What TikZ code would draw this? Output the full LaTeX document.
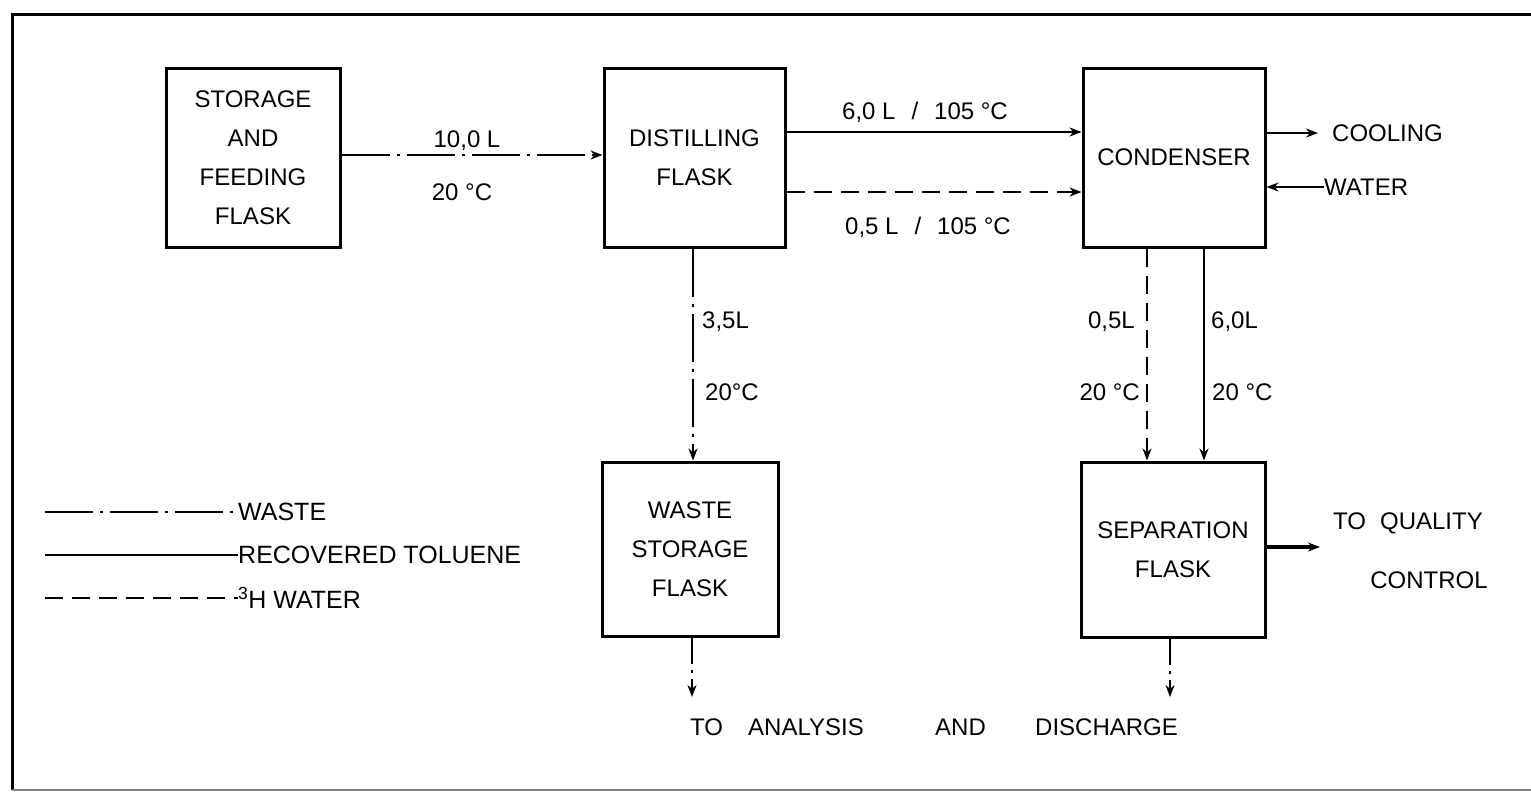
\documentclass[tikz,border=0pt]{standalone}
\usepackage{fontspec}
\setmainfont{Liberation Sans}
\usetikzlibrary{arrows.meta,calc}
\begin{document}
\begin{tikzpicture}[x=1pt,y=-1pt,
  box/.style={draw, line width=3pt, align=center, inner sep=0pt,
    font=\fontsize{24}{39}\selectfont},
  lbl/.style={inner sep=0pt, font=\fontsize{24}{28}\selectfont},
  lgd/.style={inner sep=0pt, anchor=west, font=\fontsize{25}{28}\selectfont},
  wst/.style={line width=2.7pt, dash pattern=on 48pt off 7pt on 3pt off 7pt},
  wstshort/.style={line width=2.7pt, dash pattern=on 26pt off 6pt on 3pt off 6pt},
  tol/.style={line width=2.7pt},
  wat/.style={line width=2.7pt, dash pattern=on 18pt off 9pt},
  arr/.style={-{Stealth[length=12pt,width=9pt]}}]
\useasboundingbox (0,0) rectangle (1531,795);

% frame
\draw[line width=3pt] (1531,14) -- (12,14) -- (12,790);
\draw[line width=2pt, gray] (12,790) -- (1531,790);

% boxes
\node[box, minimum width=174pt, minimum height=179pt] (stor) at (253,157.5) {STORAGE\\AND\\FEEDING\\FLASK};
\node[box, minimum width=181pt, minimum height=179pt] (dist) at (694.5,157.5) {DISTILLING\\FLASK};
\node[box, minimum width=182pt, minimum height=179pt] (cond) at (1174,157.5) {CONDENSER};
\node[box, minimum width=176pt, minimum height=174pt] (waste) at (690,549) {WASTE\\STORAGE\\FLASK};
\node[box, minimum width=184pt, minimum height=175pt] (sep) at (1173,549.5) {SEPARATION\\FLASK};

% feed
\coordinate (yfeed) at (0,155);
\draw[wst,arr] (stor.east |- yfeed) -- (dist.west |- yfeed);
\node[lbl] (l100) at (467,141) {10,0 L};
\node[lbl] (l20a) at (462,192) {20 °C};

% vapour lines
\coordinate (ytol) at (0,132);
\coordinate (ywat) at (0,192);
\draw[tol,arr] (dist.east |- ytol) -- (cond.west |- ytol);
\draw[wat,arr] (dist.east |- ywat) -- (cond.west |- ywat);
\node[lbl] (l60v) at (925,112) {6,0 L\hspace{16pt}/\hspace{16pt}105 °C};
\node[lbl] (l05v) at (928,227) {0,5 L\hspace{16pt}/\hspace{16pt}105 °C};

% cooling water
\node[lbl, anchor=west] (cool) at (1332,133) {COOLING};
\coordinate (coolend) at (1318,133);
\draw[line width=2pt,arr] (cond.east |- coolend) -- (coolend);
\node[lbl, anchor=west] (water) at (1324,187) {WATER};
\draw[line width=2pt,arr] (water.west) -- (cond.east |- water.west);

% distilling -> waste
\coordinate (xdd) at (693,0);
\draw[wst,arr] (dist.south -| xdd) -- (waste.north -| xdd);
\node[lbl, anchor=west] (l35) at (702,322) {3,5L};
\node[lbl, anchor=west] (l20b) at (705,392) {20°C};

% condenser -> separation
\coordinate (xc1) at (1147,0);
\coordinate (xc2) at (1204,0);
\draw[wat,arr] (cond.south -| xc1) -- (sep.north -| xc1);
\draw[tol,arr] (cond.south -| xc2) -- (sep.north -| xc2);
\node[lbl, anchor=east] (l05) at (1135,322) {0,5L};
\node[lbl, anchor=east] (l20c) at (1140,392) {20 °C};
\node[lbl, anchor=west] (l60) at (1211,322) {6,0L};
\node[lbl, anchor=west] (l20d) at (1212,392) {20 °C};

% quality control
\node[lbl, anchor=west] (q1) at (1333,523) {TO\hspace{14pt}QUALITY};
\node[lbl] (q2) at (1429,580) {CONTROL};
\coordinate (qend) at (1320,547);
\draw[line width=3.5pt,arr] (sep.east |- qend) -- (qend);

% discharge
\coordinate (wd) at (692,697);
\coordinate (sd) at (1170,697);
\draw[wstshort,arr] (waste.south -| wd) -- (wd);
\draw[wstshort,arr] (sep.south -| sd) -- (sd);
\node[lbl, anchor=west] (b1) at (690,727) {TO};
\node[lbl, anchor=west] (b2) at (748,727) {ANALYSIS};
\node[lbl, anchor=west] (b3) at (935,727) {AND};
\node[lbl, anchor=west] (b4) at (1035,727) {DISCHARGE};

% legend
\node[lgd] (lg1) at (238,512) {WASTE};
\node[lgd] (lg2) at (238,555) {RECOVERED TOLUENE};
\node[lgd] (lg3) at (238,598) {\textsuperscript{3}H WATER};
\coordinate (lg1s) at (45,512);
\coordinate (lg2s) at (45,555);
\coordinate (lg3s) at (45,598);
\draw[wst] (lg1s) -- (lg1.west);
\draw[tol] (lg2s) -- (lg2.west);
\draw[wat] (lg3s) -- (lg3.west);
\end{tikzpicture}
\end{document}
